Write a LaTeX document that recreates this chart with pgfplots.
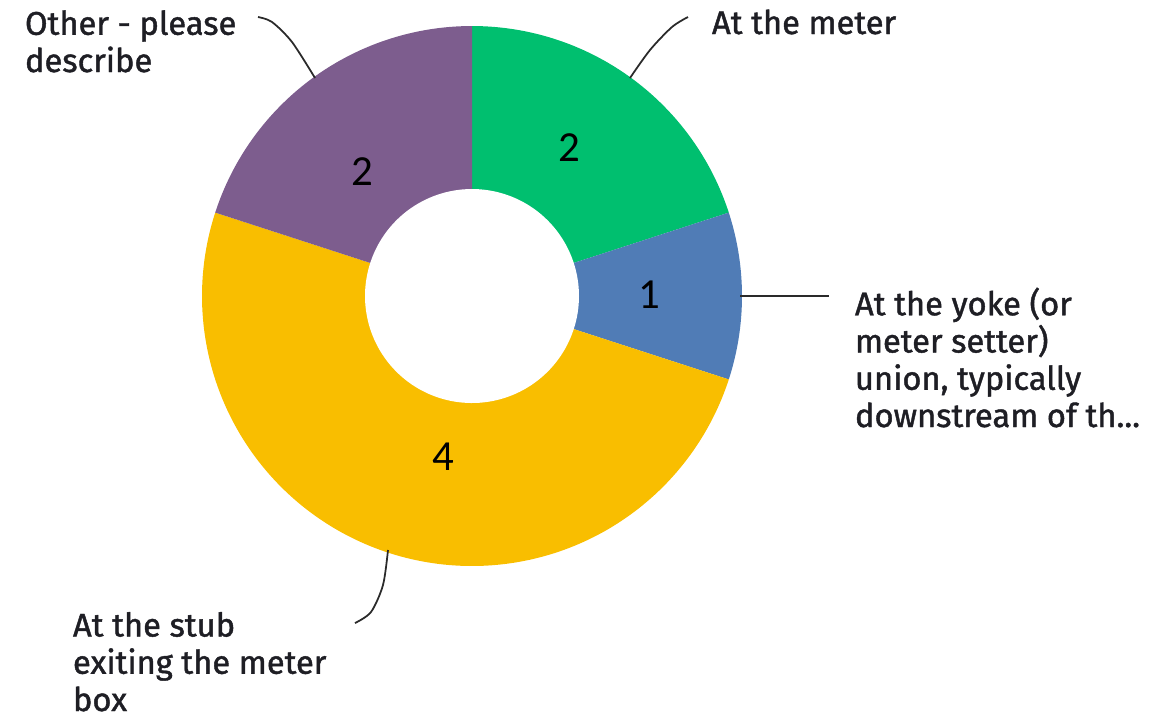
\documentclass[border=0pt]{standalone}
\usepackage{pgfplots}
\usepackage{pgfplotstable}
\pgfplotsset{compat=1.18}
\usepackage{fontspec}
\setmainfont{Fira Sans}
\newfontfamily\labfont{Fira Sans}[FakeBold=1.3]
\newfontfamily\numfont{Carlito}
\definecolor{cGreen}{HTML}{00BF6F}
\definecolor{cBlue}{HTML}{507CB6}
\definecolor{cYellow}{HTML}{F9BE00}
\definecolor{cPurple}{HTML}{7D5D8E}
\definecolor{cText}{HTML}{1E1E24}
\definecolor{cLine}{HTML}{2A2A2A}

% slice shares as drawn (clockwise from 12 o'clock)
\pgfplotstableread{
share
2
1
5
2
}\slices
\pgfplotstablegetelem{0}{share}\of\slices \let\vA\pgfplotsretval
\pgfplotstablegetelem{1}{share}\of\slices \let\vB\pgfplotsretval
\pgfplotstablegetelem{2}{share}\of\slices \let\vC\pgfplotsretval
\pgfplotstablegetelem{3}{share}\of\slices \let\vD\pgfplotsretval
\pgfmathsetmacro\tot{\vA+\vB+\vC+\vD}
\pgfmathsetmacro\aA{90}
\pgfmathsetmacro\aB{\aA-360*\vA/\tot}
\pgfmathsetmacro\aC{\aB-360*\vB/\tot}
\pgfmathsetmacro\aD{\aC-360*\vC/\tot}
\pgfmathsetmacro\aE{\aD-360*\vD/\tot}

\tikzset{lab/.style={anchor=base west, align=left, inner sep=0pt, outer sep=0pt, text=cText, font=\labfont\fontsize{9.3}{10.6}\selectfont},
         num/.style={inner sep=0pt, outer sep=0pt, font=\numfont\fontsize{12.2}{14}\selectfont}}

\begin{document}
\begin{tikzpicture}
\begin{axis}[
  scale only axis, width=11.68cm, height=7.17cm,
  xmin=0, xmax=1168, ymin=0, ymax=717, y dir=reverse,
  hide axis, clip=false,
]
\addplot[fill=cGreen, draw=none, domain=\aB:\aA, samples=80, variable=\t]
  ({472+270*cos(\t)},{296-270*sin(\t)}) -- (axis cs:472,296) -- cycle;
\addplot[fill=cBlue, draw=none, domain=\aC:\aB, samples=60, variable=\t]
  ({472+270*cos(\t)},{296-270*sin(\t)}) -- (axis cs:472,296) -- cycle;
\addplot[fill=cYellow, draw=none, domain=\aD:\aC, samples=160, variable=\t]
  ({472+270*cos(\t)},{296-270*sin(\t)}) -- (axis cs:472,296) -- cycle;
\addplot[fill=cPurple, draw=none, domain=\aE:\aD, samples=80, variable=\t]
  ({472+270*cos(\t)},{296-270*sin(\t)}) -- (axis cs:472,296) -- cycle;
% hole
\addplot[fill=white, draw=none, domain=0:360, samples=160, variable=\t]
  ({472+107*cos(\t)},{296-107*sin(\t)}) -- cycle;

% leader lines
\addplot[smooth, cLine, line width=0.5pt] coordinates {(258,17) (272,22) (292,42) (315,78)};
\addplot[smooth, cLine, line width=0.5pt] coordinates {(630,78) (650,50) (672,27) (688,17)};
\addplot[cLine, line width=0.5pt] coordinates {(740,296) (829,296)};
\addplot[smooth, cLine, line width=0.5pt] coordinates {(388,550) (383,585) (371,612) (355,623)};

% values
\node[num] at (axis cs:569,148) {2};
\node[num] at (axis cs:649,295) {1};
\node[num] at (axis cs:443,457) {4};
\node[num] at (axis cs:362,172) {2};

% category labels (anchor = baseline of last line)
\node[lab] at (axis cs:25,72) {Other - please\\describe};
\node[lab] at (axis cs:712,34) {At the meter};
\node[lab] at (axis cs:855,427) {At the yoke (or\\meter setter)\\union, typically\\downstream of th...};
\node[lab] at (axis cs:73,711) {At the stub\\exiting the meter\\box};
\end{axis}
\pgfresetboundingbox
\path[use as bounding box] (current axis.south west) rectangle (current axis.north east);
\end{tikzpicture}
\end{document}
